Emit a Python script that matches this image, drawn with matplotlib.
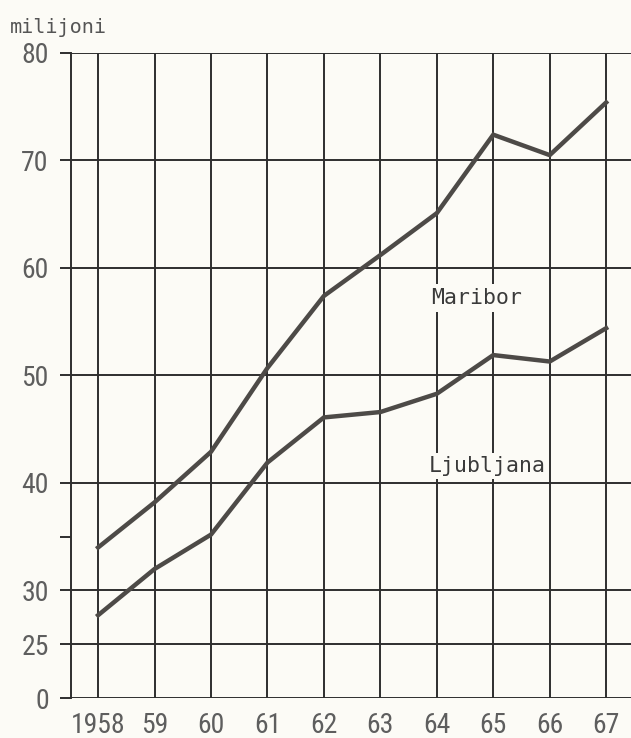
import matplotlib.pyplot as plt
from matplotlib import font_manager

# data (millions)
years = [1958, 1959, 1960, 1961, 1962, 1963, 1964, 1965, 1966, 1967]
year_labels = ["1958", "59", "60", "61", "62", "63", "64", "65", "66", "67"]
maribor = [34.0, 38.2, 42.9, 50.7, 57.4, 61.2, 65.1, 72.4, 70.5, 75.4]
ljubljana = [27.7, 32.0, 35.2, 41.9, 46.1, 46.6, 48.3, 51.9, 51.3, 54.4]

# broken axis: the bottom line (drawn at 20) is labelled "0"
y_ticks = [20, 25, 30, 35, 40, 50, 60, 70, 80]
y_tick_labels = ["0", "25", "30", "", "40", "50", "60", "70", "80"]
grid_levels = [20, 25, 30, 40, 50, 60, 70, 80]

bg = "#fcfbf6"
ink = "#2e2e2e"
line_col = "#4d4a47"
label_col = "#5e5e5e"
type_font = ["DejaVu Sans Mono"]

# narrow face for the numbers if one is around
names = {f.name for f in font_manager.fontManager.ttflist}
num_font = "DejaVu Sans"
for cand in ["Liberation Sans Narrow", "Roboto Condensed", "Open Sans Condensed"]:
    if cand in names:
        num_font = cand
        break
num_props = font_manager.FontProperties(family=num_font, size=20, stretch="condensed")

fig = plt.figure(figsize=(6.31, 7.38), dpi=100, facecolor=bg)
ax = fig.add_axes([0.1125, 0.0542, 0.8875, 0.874])
ax.set_facecolor(bg)

for lvl in grid_levels:
    ax.axhline(lvl, color=ink, lw=1.4, zorder=1)
for yr in years:
    ax.axvline(yr, color=ink, lw=1.4, zorder=1)

ax.plot(years, maribor, color=line_col, lw=3.2, solid_joinstyle="miter", zorder=3)
ax.plot(years, ljubljana, color=line_col, lw=3.2, solid_joinstyle="miter", zorder=3)

ax.text(1964.7, 57.2, "Maribor", family=type_font, fontsize=15.5, color="#3a3a3a",
        ha="center", va="center", zorder=4,
        bbox=dict(facecolor=bg, edgecolor="none", pad=3))
ax.text(1964.9, 41.6, "Ljubljana", family=type_font, fontsize=15.5, color="#3a3a3a",
        ha="center", va="center", zorder=4,
        bbox=dict(facecolor=bg, edgecolor="none", pad=2))

ax.set_xlim(1957.52, 1967.44)
ax.set_ylim(20, 80)
ax.set_yticks(y_ticks)
ax.set_yticklabels(y_tick_labels, fontproperties=num_props, color=label_col)
ax.set_xticks(years)
ax.set_xticklabels(year_labels, fontproperties=num_props, color=label_col)
ax.tick_params(axis="y", length=8, width=1.4, color=ink, pad=8)
ax.tick_params(axis="x", length=0, pad=10)

for side in ["top", "right", "bottom"]:
    ax.spines[side].set_visible(False)
ax.spines["left"].set_color(ink)
ax.spines["left"].set_linewidth(1.4)

fig.text(0.016, 0.963, "milijoni", family=type_font, fontsize=14.5, color="#555555",
         ha="left", va="center")

fig.savefig("out.png", dpi=100, facecolor=bg)
